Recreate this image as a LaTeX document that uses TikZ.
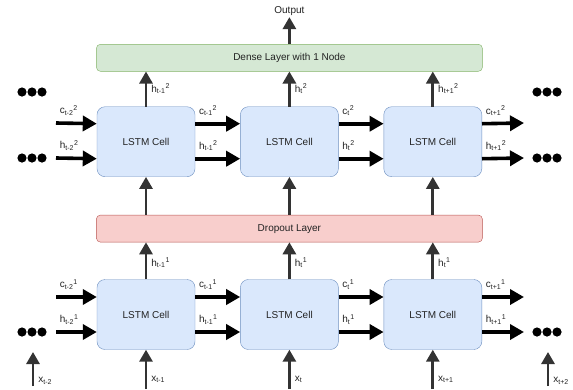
\documentclass[tikz,border=0pt]{standalone}
\usepackage{fontspec}
\setmainfont{Liberation Sans}
\usetikzlibrary{arrows.meta,positioning}
\definecolor{cellfill}{HTML}{DAE8FC}
\definecolor{cellline}{HTML}{6C8EBF}
\definecolor{densefill}{HTML}{D5E8D4}
\definecolor{denseline}{HTML}{82B366}
\definecolor{dropfill}{HTML}{F8CECC}
\definecolor{dropline}{HTML}{B85450}
\definecolor{txt}{HTML}{222222}
\definecolor{upgray}{HTML}{333333}
\newcommand{\sig}[3]{#1\textsubscript{#2}\textsuperscript{#3}}

\begin{document}
\begin{tikzpicture}[x=1pt, y=-1pt,
    cell/.style={draw=cellline, fill=cellfill, rounded corners=8pt, minimum width=98pt, minimum height=70pt, font=\fontsize{10}{12}\selectfont, text=txt},
    layer/.style={rounded corners=4pt, minimum width=386pt, minimum height=27pt, font=\fontsize{10}{12}\selectfont, text=txt},
    harr/.style={line width=3.6pt, -{Triangle[length=14pt,width=15pt]}},
    varr/.style={line width=2.8pt, draw=upgray, -{Triangle[length=12pt,width=13pt]}},
    lbl/.style={font=\fontsize{10}{11}\selectfont, inner sep=1pt, text=txt}]
    \useasboundingbox (0,0) rectangle (573,389);

    % First LSTM layer
    \node[cell] (l1c1) at (146,314.5) {LSTM Cell};
    \node[cell, right=45pt of l1c1] (l1c2) {LSTM Cell};
    \node[cell, right=45pt of l1c2] (l1c3) {LSTM Cell};

    % Dropout
    \node[layer, draw=dropline, fill=dropfill, above=37pt of l1c2] (drop) {Dropout Layer};

    % Second LSTM layer
    \node[cell, above=38pt of drop] (l2c2) {LSTM Cell};
    \node[cell, left=45pt of l2c2] (l2c1) {LSTM Cell};
    \node[cell, right=45pt of l2c2] (l2c3) {LSTM Cell};

    % Dense layer and output
    \node[layer, draw=denseline, fill=densefill, above=35pt of l2c2] (dense) {Dense Layer with 1 Node};
    \node[lbl, above=27pt of dense] (out) {Output};

    % Free ends
    \coordinate (c2in) at (56,123);
    \coordinate (h2in) at (56,158);
    \coordinate (c2out) at (524,123);
    \coordinate (h2out) at (524,158);
    \coordinate (c1in) at (56,297);
    \coordinate (h1in) at (56,332);
    \coordinate (c1out) at (524,297);
    \coordinate (h1out) at (524,332);
    \coordinate (x0a) at (33,386);
    \coordinate (x0b) at (33,352);
    \coordinate (x4a) at (548,386);
    \coordinate (x4b) at (548,352);

    % Layer 2 states
    \draw[harr] (c2in) -- node[lbl, above right=5pt and 1pt, pos=0] {\sig{c}{t-2}{2}} ([yshift=18pt]l2c1.west);
    \draw[harr] (h2in) -- node[lbl, above right=5pt and 1pt, pos=0] {\sig{h}{t-2}{2}} ([yshift=-17pt]l2c1.west);
    \draw[harr] ([yshift=18pt]l2c1.east) -- node[lbl, above right=5pt and 1pt, pos=0] {\sig{c}{t-1}{2}} ([yshift=18pt]l2c2.west);
    \draw[harr] ([yshift=-17pt]l2c1.east) -- node[lbl, above right=5pt and 1pt, pos=0] {\sig{h}{t-1}{2}} ([yshift=-17pt]l2c2.west);
    \draw[harr] ([yshift=18pt]l2c2.east) -- node[lbl, above right=5pt and 1pt, pos=0] {\sig{c}{t}{2}} ([yshift=18pt]l2c3.west);
    \draw[harr] ([yshift=-17pt]l2c2.east) -- node[lbl, above right=5pt and 1pt, pos=0] {\sig{h}{t}{2}} ([yshift=-17pt]l2c3.west);
    \draw[harr] ([yshift=18pt]l2c3.east) -- node[lbl, above right=5pt and 1pt, pos=0] {\sig{c}{t+1}{2}} (c2out);
    \draw[harr] ([yshift=-17pt]l2c3.east) -- node[lbl, above right=5pt and 1pt, pos=0] {\sig{h}{t+1}{2}} (h2out);

    % Layer 1 states
    \draw[harr] (c1in) -- node[lbl, above right=5pt and 1pt, pos=0] {\sig{c}{t-2}{1}} ([yshift=17.5pt]l1c1.west);
    \draw[harr] (h1in) -- node[lbl, above right=5pt and 1pt, pos=0] {\sig{h}{t-2}{1}} ([yshift=-17.5pt]l1c1.west);
    \draw[harr] ([yshift=17.5pt]l1c1.east) -- node[lbl, above right=5pt and 1pt, pos=0] {\sig{c}{t-1}{1}} ([yshift=17.5pt]l1c2.west);
    \draw[harr] ([yshift=-17.5pt]l1c1.east) -- node[lbl, above right=5pt and 1pt, pos=0] {\sig{h}{t-1}{1}} ([yshift=-17.5pt]l1c2.west);
    \draw[harr] ([yshift=17.5pt]l1c2.east) -- node[lbl, above right=5pt and 1pt, pos=0] {\sig{c}{t}{1}} ([yshift=17.5pt]l1c3.west);
    \draw[harr] ([yshift=-17.5pt]l1c2.east) -- node[lbl, above right=5pt and 1pt, pos=0] {\sig{h}{t}{1}} ([yshift=-17.5pt]l1c3.west);
    \draw[harr] ([yshift=17.5pt]l1c3.east) -- node[lbl, above right=5pt and 1pt, pos=0] {\sig{c}{t+1}{1}} (c1out);
    \draw[harr] ([yshift=-17.5pt]l1c3.east) -- node[lbl, above right=5pt and 1pt, pos=0] {\sig{h}{t+1}{1}} (h1out);

    % Upward connections
    \draw[varr] (dense) -- (out);
    \draw[varr] (l2c1) -- node[lbl, right=3pt, pos=0.5] {\sig{h}{t-1}{2}} (l2c1 |- dense.south);
    \draw[varr] (l2c2) -- node[lbl, right=3pt, pos=0.5] {\sig{h}{t}{2}} (l2c2 |- dense.south);
    \draw[varr] (l2c3) -- node[lbl, right=3pt, pos=0.5] {\sig{h}{t+1}{2}} (l2c3 |- dense.south);
    \draw[varr] (l2c1 |- drop.north) -- (l2c1);
    \draw[varr] (drop) -- (l2c2);
    \draw[varr] (l2c3 |- drop.north) -- (l2c3);
    \draw[varr] (l1c1) -- node[lbl, right=3pt, pos=0.45] {\sig{h}{t-1}{1}} (l1c1 |- drop.south);
    \draw[varr] (l1c2) -- node[lbl, right=3pt, pos=0.45] {\sig{h}{t}{1}} (l1c2 |- drop.south);
    \draw[varr] (l1c3) -- node[lbl, right=3pt, pos=0.45] {\sig{h}{t}{1}} (l1c3 |- drop.south);

    % Inputs
    \draw[varr] (x0a) -- node[lbl, right=3pt, pos=0.15] {x\textsubscript{t-2}} (x0b);
    \draw[varr] (l1c1 |- 0,389) -- node[lbl, right=3pt, pos=0.25] {x\textsubscript{t-1}} (l1c1);
    \draw[varr] (l1c2 |- 0,389) -- node[lbl, right=3pt, pos=0.25] {x\textsubscript{t}} (l1c2);
    \draw[varr] (l1c3 |- 0,389) -- node[lbl, right=3pt, pos=0.25] {x\textsubscript{t+1}} (l1c3);
    \draw[varr] (x4a) -- node[lbl, right=3pt, pos=0.15] {x\textsubscript{t+2}} (x4b);

    % Dots
    \foreach \y in {92,158,332} {
        \foreach \x in {22,32,42,537,547,557}
            \fill (\x,\y) circle (4.6pt);
    }
\end{tikzpicture}
\end{document}
